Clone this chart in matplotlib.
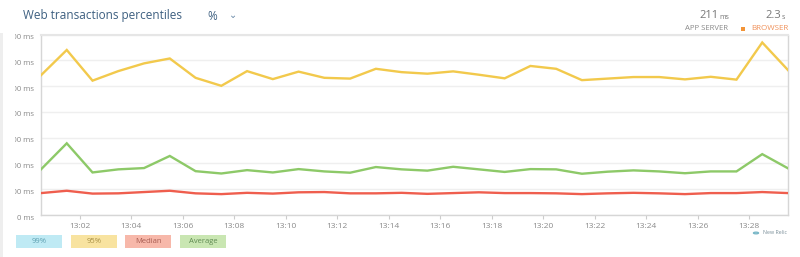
import matplotlib
matplotlib.use("Agg")
import matplotlib.pyplot as plt
from matplotlib.patches import Rectangle
from matplotlib.transforms import Bbox, ScaledTranslation

# ---- data (ms), one point per minute, centred at HH:MM:30 ----
minutes = [0.5 + i for i in range(30)]
p95 = [542, 640, 521, 558, 588, 607, 532, 501, 558, 527, 556, 532, 529, 567, 554,
       548, 557, 544, 530, 578, 567, 523, 529, 535, 535, 526, 536, 525, 669, 562]
average = [177, 278, 165, 177, 182, 229, 170, 161, 174, 165, 178, 169, 164, 186, 177,
           172, 187, 177, 167, 178, 177, 160, 168, 173, 169, 162, 169, 169, 236, 181]
median = [85, 94, 83, 84, 89, 94, 84, 81, 86, 83, 88, 89, 84, 84, 86,
          82, 85, 88, 85, 85, 84, 81, 84, 86, 84, 81, 85, 85, 89, 85]
xtick_pos = [2, 4, 6, 8, 10, 12, 14, 16, 18, 20, 22, 24, 26, 28]
xtick_labels = ["13:02", "13:04", "13:06", "13:08", "13:10", "13:12", "13:14",
                "13:16", "13:18", "13:20", "13:22", "13:24", "13:26", "13:28"]
ytick_vals = [0, 100, 200, 300, 400, 500, 600, 700]
ytick_labels = ["0 ms", "100 ms", "200 ms", "300 ms", "400 ms", "500 ms", "600 ms", "700 ms"]
legend_labels = ["99%", "95%", "Median", "Average"]
app_server = "211"
browser = "2.3"

FONT = "Open Sans"
plt.rcParams["font.family"] = [FONT, "DejaVu Sans"]

fig = plt.figure(figsize=(8.0, 2.57), dpi=100)
ax = fig.add_axes([41 / 800, 1 - 215 / 257, (788 - 41) / 800, (215 - 34.5) / 257])

ax.plot(minutes, p95, color="#f2c94c", lw=1.7, solid_joinstyle="miter", zorder=3)
ax.plot(minutes, average, color="#8dc968", lw=1.7, solid_joinstyle="miter", zorder=3)
ax.plot(minutes, median, color="#ef5e4e", lw=1.7, solid_joinstyle="miter", zorder=3)

ax.set_xlim(minutes[0], minutes[-1])
ax.set_ylim(0, 700)
ax.set_yticks(ytick_vals)
ax.set_yticklabels(ytick_labels)
ax.set_xticks(xtick_pos)
ax.set_xticklabels(xtick_labels)
ax.grid(axis="y", color="#efefef", lw=1.0)
ax.set_axisbelow(True)
for s in ["left", "bottom", "right"]:
    ax.spines[s].set_color("#d6d6d6")
    ax.spines[s].set_linewidth(1.0)
ax.spines["top"].set_color("#e6e6e6")
ax.spines["top"].set_linewidth(1.5)
ax.tick_params(axis="y", length=0, pad=5, labelsize=5.6, labelcolor="#8a8a8a")
ax.tick_params(axis="x", length=3, color="#cccccc", pad=2.5, labelsize=6, labelcolor="#8a8a8a")

# y labels sit slightly below their gridlines and are cut off at the panel border
clip = Bbox.from_extents(15, 0, 800, 257)
shift = ScaledTranslation(0, -2 / 100, fig.dpi_scale_trans)
for lab in ax.get_yticklabels():
    lab.set_transform(lab.get_transform() + shift)
    lab.set_clip_box(clip)
    lab.set_clip_on(True)

# left panel border
fig.add_artist(Rectangle((0, 0), 3 / 800, (257 - 33) / 257, transform=fig.transFigure,
                         facecolor="#eeeeee", edgecolor="none"))

# header
fig.text(23 / 800, 1 - 16 / 257, "Web transactions percentiles", fontsize=8.5,
         color="#3d5f80", va="center", ha="left")
fig.text(207 / 800, 1 - 16 / 257, "%", fontsize=8.5, color="#3d5f80", va="center", ha="left")
fig.text(229 / 800, 1 - 15 / 257, "\u2304", fontsize=7, color="#6a8aa8", va="center",
         ha="left", family=["DejaVu Sans"])

# summary numbers
fig.text(718.5 / 800, 1 - 16 / 257, app_server, fontsize=8, color="#777777", va="center", ha="right")
fig.text(719 / 800, 1 - 17.5 / 257, "ms", fontsize=5, color="#777777", va="center", ha="left")
fig.text(728 / 800, 1 - 29 / 257, "APP SERVER", fontsize=5.6, color="#8a8a8a", va="center", ha="right")
fig.text(781.5 / 800, 1 - 16 / 257, browser, fontsize=8, color="#777777", va="center", ha="right")
fig.text(782 / 800, 1 - 17.5 / 257, "s", fontsize=5, color="#777777", va="center", ha="left")
fig.text(788 / 800, 1 - 29 / 257, "BROWSER", fontsize=5.8, color="#f0915a", va="center", ha="right")
fig.add_artist(Rectangle((741 / 800, 1 - 31 / 257), 4 / 800, 4 / 257, transform=fig.transFigure,
                         facecolor="#f29437", edgecolor="none"))

# legend chips
chip_face = ["#bfeaf4", "#f8e3a0", "#f7b8aa", "#c9e6b2"]
chip_text = ["#5d9fb0", "#a89045", "#a85d52", "#5f8a52"]
chip_x = [16, 71, 125, 180]
for lab, fc, tc, x0 in zip(legend_labels, chip_face, chip_text, chip_x):
    fig.add_artist(Rectangle((x0 / 800, 1 - 248 / 257), 46 / 800, 13 / 257,
                             transform=fig.transFigure, facecolor=fc, edgecolor="none"))
    fig.text((x0 + 23) / 800, 1 - 241.5 / 257, lab, fontsize=5.5, color=tc,
             va="center", ha="center")

# brand
fig.text(787 / 800, 1 - 233 / 257, "New Relic", fontsize=3.8, color="#7a8f99",
         va="center", ha="right")
fig.add_artist(plt.Circle((756 / 800, 1 - 233 / 257), 2.5 / 800, transform=fig.transFigure,
                          facecolor="none", edgecolor="#7ab8c8", lw=1))

fig.savefig("out.png", dpi=100)
